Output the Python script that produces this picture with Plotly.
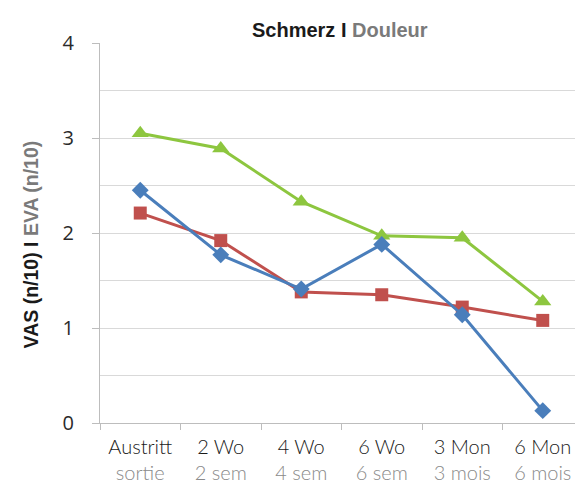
import plotly.graph_objects as go

categories = ["Austritt<br><span style='color:#8a8a8a'>sortie</span>",
              "2 Wo<br><span style='color:#8a8a8a'>2 sem</span>",
              "4 Wo<br><span style='color:#8a8a8a'>4 sem</span>",
              "6 Wo<br><span style='color:#8a8a8a'>6 sem</span>",
              "3 Mon<br><span style='color:#8a8a8a'>3 mois</span>",
              "6 Mon<br><span style='color:#8a8a8a'>6 mois</span>"]
blue_vals = [2.45, 1.77, 1.41, 1.88, 1.14, 0.13]
red_vals = [2.21, 1.92, 1.38, 1.35, 1.22, 1.08]
green_vals = [3.05, 2.89, 2.33, 1.97, 1.95, 1.28]

fig = go.Figure()
series = [
    (green_vals, "#8DC63F", "triangle-up", 15),
    (red_vals, "#C0504D", "square", 13),
    (blue_vals, "#4A7EBB", "diamond", 13),
]
for vals, col, sym, sz in series:
    fig.add_trace(go.Scatter(x=categories, y=vals, mode="lines+markers",
                             line=dict(color=col, width=3),
                             marker=dict(symbol=sym, size=sz, color=col),
                             showlegend=False, cliponaxis=False))

fig.update_layout(
    width=575, height=478,
    margin=dict(l=92, r=0, t=35, b=63),
    paper_bgcolor="white", plot_bgcolor="white",
    font=dict(family="Liberation Sans, Arial, sans-serif"),
    annotations=[
        dict(text="<b>Schmerz I <span style='color:#7a7a7a'>Douleur</span></b>",
             xref="paper", yref="paper", x=0.497, y=1.0, yshift=26,
             showarrow=False, font=dict(size=20, color="#1a1a1a",
                                        family="Liberation Sans, Arial, sans-serif")),
        dict(text="<b>VAS (n/10) I <span style='color:#7a7a7a'>EVA (n/10)</span></b>",
             xref="paper", yref="paper", x=0, xshift=-82, y=0.47,
             textangle=-90, showarrow=False,
             font=dict(size=19.5, color="#1a1a1a",
                       family="Liberation Sans, Arial, sans-serif")),
    ],
)
fig.update_xaxes(
    type="category", range=[-0.5, 5.5], automargin=False,
    showline=True, linecolor="#bdbdbd", linewidth=1,
    tickson="boundaries", ticks="outside", ticklen=6, tickcolor="#bdbdbd",
    showgrid=False, ticklabelstandoff=6,
    tickfont=dict(size=20, color="#1a1a1a", family="Lato, sans-serif", weight=300),
)
fig.update_yaxes(
    range=[0, 4], dtick=1, tick0=0, automargin=False,
    showline=True, linecolor="#bdbdbd", linewidth=1,
    ticks="outside", ticklen=7, tickcolor="#bdbdbd",
    showgrid=True, gridcolor="#d9d9d9", gridwidth=1,
    minor=dict(dtick=0.5, showgrid=True, gridcolor="#d9d9d9", gridwidth=1),
    zeroline=False,
    tickfont=dict(size=20, color="#2a2a2a", family="Open Sans, sans-serif"),
    ticklabelstandoff=14,
)

fig.write_html("out.html")
